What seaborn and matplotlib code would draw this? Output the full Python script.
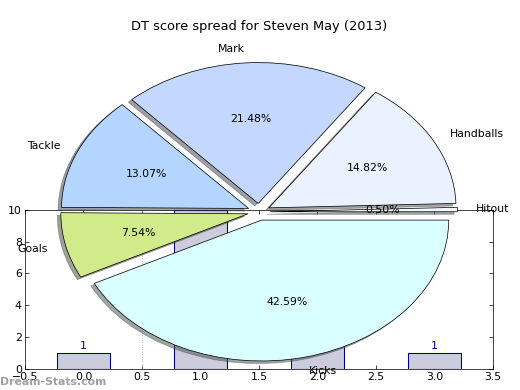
import numpy as np
import pandas as pd
import seaborn as sns
import matplotlib.pyplot as plt

sns.set_style("ticks")
plt.rcParams['font.family'] = ['DejaVu Sans']
plt.rcParams['xtick.direction'] = 'in'
plt.rcParams['ytick.direction'] = 'in'
plt.rcParams['text.color'] = 'black'
plt.rcParams['axes.labelcolor'] = 'black'
plt.rcParams['xtick.color'] = 'black'
plt.rcParams['ytick.color'] = 'black'

# pie data (DT points by stat)
stats = ['Hitout', 'Handballs', 'Mark', 'Tackle', 'Goals', 'Kicks']
dt_points = [4, 118, 171, 104, 60, 339]
pie_colors = ['#f4f8ff', '#eaf2ff', '#c4d8ff', '#b3d5ff', '#d2eb8a', '#d9ffff']

# bar data underneath
bar_x = [0, 1, 2, 3]
bar_counts = [1, 10, 5, 1]

fig = plt.figure(figsize=(8, 6), dpi=65)

# bar axes (drawn first, sits under the pie)
ax_bar = fig.add_axes([0.048, 0.054, 0.9, 0.408])
df = pd.DataFrame({'x': bar_x, 'count': bar_counts})
sns.barplot(data=df, x='x', y='count', ax=ax_bar, color='#ccccdd',
            edgecolor='#000080', linewidth=1.2, width=0.45, saturation=1,
            native_scale=True)
for xv, c in zip(bar_x, bar_counts):
    ax_bar.text(xv, c + 0.1, str(c), ha='center', va='bottom',
                color='#000080', fontsize=12)
ax_bar.axvline(0.5, color='#aaaaaa', linestyle=':', linewidth=1)
ax_bar.set_xlim(-0.5, 3.5)
ax_bar.set_ylim(0, 10)
ax_bar.set_xticks(np.arange(-0.5, 3.51, 0.5))
ax_bar.set_yticks(range(0, 11, 2))
ax_bar.set_xlabel('')
ax_bar.set_ylabel('')
ax_bar.tick_params(top=True, right=True, labelsize=12, length=4)
for s in ax_bar.spines.values():
    s.set_visible(True)
    s.set_color('black')

# pie axes on top
ax_pie = fig.add_axes([0.048, 0.0052, 0.9, 0.903])
wedges, texts, autotexts = ax_pie.pie(
    dt_points, labels=stats, colors=pie_colors, autopct='%.2f%%',
    explode=[0.06] * len(stats), shadow=True,
    wedgeprops={'edgecolor': 'black', 'linewidth': 0.8},
    textprops={'fontsize': 12, 'color': 'black'})
ax_pie.set_aspect('auto')
ax_pie.set_xlim(-1.25, 1.25)
ax_pie.set_ylim(-1.25, 1.25)
ax_pie.set_title('DT score spread for Steven May (2013)', fontsize=14.4,
                 color='black')

fig.text(0.0, 0.012, 'Dream-Stats.com', color='#888888', fontsize=12,
         fontweight='bold', alpha=0.8)

fig.savefig('out.png', dpi=65)
